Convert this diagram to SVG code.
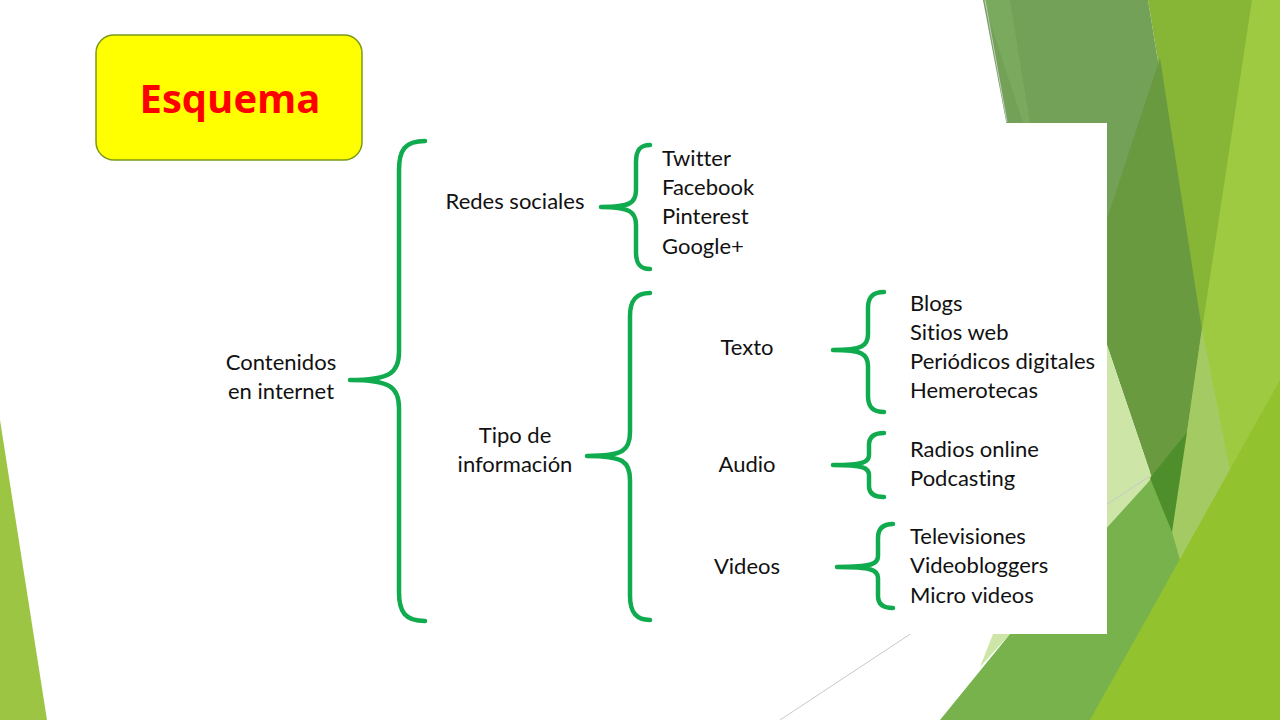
<svg xmlns="http://www.w3.org/2000/svg" width="1280" height="720" viewBox="0 0 1280 720">
<style>
.t{font-family:Lato,"Open Sans","Liberation Sans",sans-serif;font-size:22px;fill:#111;font-variant-ligatures:none}
.b{fill:none;stroke:#10ab4e;stroke-width:4.5;stroke-linecap:round;stroke-linejoin:round}
.ln{fill:none;stroke:#c8c8c8;stroke-width:1}
</style>
<rect width="1280" height="720" fill="#ffffff"/>
<g id="background">
<polygon points="0,420 47,720 0,720" fill="#9dc544"/>
<polygon points="1245,0 1280,0 1280,720 1100,720" fill="#9dca40"/>
<polygon points="1148,0 1252,0 1202,330" fill="#87b636"/>
<polygon points="983,0 1148,0 1202,330 1100,330 1040,300" fill="#72a157"/>
<polygon points="983,0 1010,0 1030,123 1023,123" fill="#79aa5e"/>
<polygon points="1160,58 1202,330 1187,432 1152,478 1107,345 1100,345 1100,240" fill="#6a9a40"/>
<polygon points="1202,328 1230,470 1180,560 1172,532 1187,432" fill="#a4ca63"/>
<polygon points="980,667 1107,345 1152,478" fill="#cde5a6"/>
<polygon points="940,720 1010,634 1152,478 1172,532 1180,560 1093,720" fill="#78b24c"/>
<polygon points="1150,478 1187,432 1172,532" fill="#4f8f2b"/>
<polygon points="1090,720 1280,380 1280,720" fill="#93c22f"/>
<line class="ln" x1="780" y1="720" x2="1150" y2="476"/>
<line class="ln" x1="985" y1="0" x2="1007" y2="122" stroke="#a8a8a8"/>
</g>
<rect id="panel" x="200" y="123" width="907" height="511" fill="#ffffff"/>
<g id="title">
<rect x="96" y="35" width="266" height="125" rx="18" ry="18" fill="#ffff00" stroke="#7a9a1a" stroke-width="1.5"/>
<text x="230" y="113" text-anchor="middle" style="font-family:'Open Sans','DejaVu Sans',sans-serif;font-weight:700;font-size:40px;fill:#ff0000">Esquema</text>
</g>
<g id="connectors">
<path class="b" d="M425,141 C405,141 399,150 399,170 L399,352 C399,373 390,380 350,380 C390,380 399,387 399,408 L399,592 C399,612 405,621 425,621"/>
<path class="b" d="M650,145 C640,145 636,150 636,162 L636,190 C636,203 630,207 601,207 C630,207 636,212 636,225 L636,252 C636,264 640,269 650,269"/>
<path class="b" d="M650,293 C636,293 630,300 630,316 L630,432 C630,450 624,456 587,456 C624,456 630,462 630,480 L630,596 C630,612 636,620 650,620"/>
<path class="b" d="M884,292 C873,292 868,297 868,308 L868,334 C868,346 862,350 833,350 C862,350 868,354 868,366 L868,396 C868,407 873,412 884,412"/>
<path class="b" d="M884,433 C874,433 869,437 869,445 L869,455 C869,462 864,465 833,465 C864,465 869,468 869,475 L869,486 C869,493 874,497 884,497"/>
<path class="b" d="M893,524 C883,524 878,529 878,538 L878,556 C878,564 872,567 837,567 C872,567 878,570 878,578 L878,596 C878,604 883,608 893,608"/>
</g>
<g id="n-contenidos"><text class="t" x="281" y="370" text-anchor="middle">Contenidos</text><text class="t" x="281" y="399" text-anchor="middle">en internet</text></g>
<g id="n-redes"><text class="t" x="515" y="209" text-anchor="middle">Redes sociales</text></g>
<g id="n-redes-items"><text class="t" x="662" y="166">Twitter</text><text class="t" x="662" y="195">Facebook</text><text class="t" x="662" y="224">Pinterest</text><text class="t" x="662" y="254">Google+</text></g>
<g id="n-tipo"><text class="t" x="515" y="443" text-anchor="middle">Tipo de</text><text class="t" x="515" y="472" text-anchor="middle">información</text></g>
<g id="n-texto"><text class="t" x="747" y="355" text-anchor="middle">Texto</text></g>
<g id="n-texto-items"><text class="t" x="910" y="311">Blogs</text><text class="t" x="910" y="340">Sitios web</text><text class="t" x="910" y="369">Periódicos digitales</text><text class="t" x="910" y="398">Hemerotecas</text></g>
<g id="n-audio"><text class="t" x="747" y="472" text-anchor="middle">Audio</text></g>
<g id="n-audio-items"><text class="t" x="910" y="457">Radios online</text><text class="t" x="910" y="486">Podcasting</text></g>
<g id="n-videos"><text class="t" x="747" y="574" text-anchor="middle">Videos</text></g>
<g id="n-videos-items"><text class="t" x="910" y="544">Televisiones</text><text class="t" x="910" y="573">Videobloggers</text><text class="t" x="910" y="603">Micro videos</text></g>
</svg>
